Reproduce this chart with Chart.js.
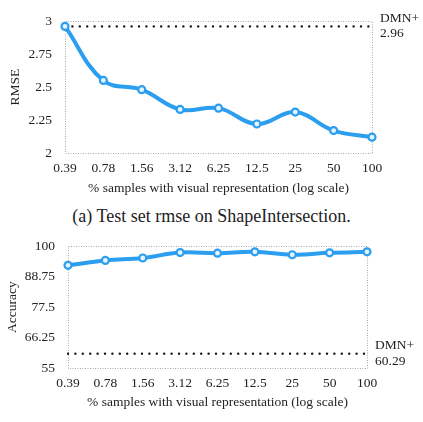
<!DOCTYPE html>
<html>
<head>
<meta charset="utf-8">
<script src="https://cdn.jsdelivr.net/npm/chart.js@4/dist/chart.umd.min.js"></script>
<style>
  html, body { margin:0; padding:0; background:#fff; }
  #wrap { position:relative; width:423px; height:422px; overflow:hidden; font-family:"Liberation Serif", serif; color:#222; }
  .box { position:absolute; left:0; width:423px; }
  #box1 { top:0; height:200px; }
  #box2 { top:225px; height:197px; }
  #cap { position:absolute; top:205px; left:0; width:423px; text-align:center; font-size:18px; line-height:22px; }
</style>
</head>
<body>
<div id="wrap">
  <div class="box" id="box1"><canvas id="c1" width="423" height="200"></canvas></div>
  <div id="cap">(a) Test set rmse on ShapeIntersection.</div>
  <div class="box" id="box2"><canvas id="c2" width="423" height="197"></canvas></div>
</div>
<script>
// ── DATA ─────────────────────────────────────────
const categories  = ['0.39','0.78','1.56','3.12','6.25','12.5','25','50','100'];
const xTitle      = '% samples with visual representation (log scale)';

const rmse        = [2.96, 2.55, 2.48, 2.33, 2.34, 2.22, 2.31, 2.17, 2.12];
const rmseTicks   = [2, 2.25, 2.5, 2.75, 3];
const rmseBase    = 2.96;

const accuracy    = [92.9, 94.7, 95.6, 97.6, 97.4, 97.9, 96.8, 97.5, 97.9];
const accTicks    = [55, 66.25, 77.5, 88.75, 100];
const accBase     = 60.29;

const BLUE = '#2b9ef0';
const TXT  = '#222';
const FONT = '"Liberation Serif", serif';
const FS   = 13.5;

// ── PLUGINS ──────────────────────────────────────
// dotted frame round the plot area
const framePlugin = {
  id: 'frame',
  beforeDatasetsDraw(chart) {
    const a = chart.chartArea, ctx = chart.ctx;
    ctx.save();
    ctx.strokeStyle = '#a8a8a8';
    ctx.lineWidth = 1;
    ctx.setLineDash([1, 1.5]);
    ctx.strokeRect(Math.round(a.left) + 0.5, Math.round(a.top) + 0.5,
                   Math.round(a.right - a.left), Math.round(a.bottom - a.top));
    ctx.restore();
  }
};

// "DMN+ / value" note right of the baseline
const notePlugin = {
  id: 'note',
  afterDraw(chart, args, opts) {
    const ctx = chart.ctx;
    const y = chart.scales.y.getPixelForValue(opts.value);
    const x = chart.chartArea.right + opts.dx;
    ctx.save();
    ctx.fillStyle = TXT;
    ctx.font = FS + 'px ' + FONT;
    ctx.textAlign = 'left';
    ctx.textBaseline = 'middle';
    ctx.fillText('DMN+', x, y - 8);
    ctx.fillText(String(opts.value), x, y + 7.5);
    ctx.restore();
  }
};

// ── CHART ────────────────────────────────────────
function makeChart(id, cfg) {
  return new Chart(document.getElementById(id), {
    type: 'line',
    data: {
      labels: categories,
      datasets: [
        {
          data: cfg.values,
          borderColor: BLUE, borderWidth: 4, tension: 0.4,
          pointRadius: 3.5, pointBorderWidth: 2.2,
          pointBorderColor: BLUE, pointBackgroundColor: '#e6f3fd',
          clip: false,
        },
        {
          data: categories.map(() => cfg.base),
          borderColor: '#111', borderWidth: 2.4,
          borderDash: [0, 7.4], borderCapStyle: 'round',
          pointRadius: 0, tension: 0,
        }
      ]
    },
    options: {
      responsive: false, animation: false,
      layout: { padding: { top: cfg.area.top, right: 423 - cfg.area.right, left: 0, bottom: 0 } },
      plugins: {
        legend: { display: false }, tooltip: { enabled: false },
        note: { value: cfg.base, dx: 8 }
      },
      scales: {
        x: {
          offset: false,
          grid: { display: false, drawTicks: false }, border: { display: false },
          ticks: { color: TXT, font: { family: FONT, size: FS }, padding: 7, maxRotation: 0, autoSkip: false },
          title: { display: true, text: xTitle, color: TXT, font: { family: FONT, size: FS }, padding: { top: 0, bottom: cfg.titlePad } },
          afterFit: s => { s.height = cfg.height - cfg.area.bottom; }
        },
        y: {
          min: cfg.ticks[0], max: cfg.ticks[cfg.ticks.length - 1],
          grid: { display: false, drawTicks: false }, border: { display: false },
          afterBuildTicks: s => { s.ticks = cfg.ticks.map(v => ({ value: v })); },
          ticks: { color: TXT, font: { family: FONT, size: FS }, padding: cfg.area.left - cfg.labelRight, callback: v => String(v) },
          title: { display: true, text: cfg.yTitle, color: TXT, font: { family: FONT, size: FS }, padding: { top: cfg.yTitlePad, bottom: 0 } },
          afterFit: s => { s.width = cfg.area.left; }
        }
      }
    },
    plugins: [framePlugin, notePlugin]
  });
}

makeChart('c1', {
  values: rmse, ticks: rmseTicks, base: rmseBase, yTitle: 'RMSE',
  height: 200, area: { left: 65, right: 372, top: 21, bottom: 153 },
  labelRight: 52, titlePad: 3, yTitlePad: 7
});

makeChart('c2', {
  values: accuracy, ticks: accTicks, base: accBase, yTitle: 'Accuracy',
  height: 197, area: { left: 68, right: 367, top: 13, bottom: 143 },
  labelRight: 55, titlePad: 11, yTitlePad: 4
});
</script>
</body>
</html>
